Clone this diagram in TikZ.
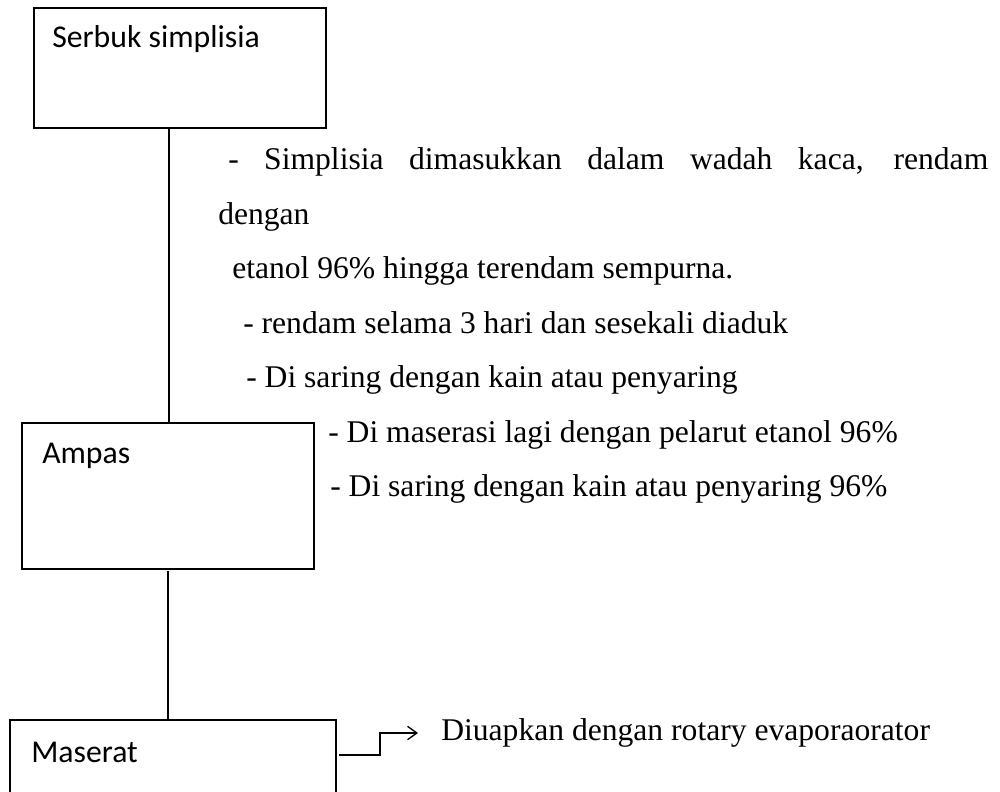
\documentclass[tikz,border=0pt]{standalone}
\usepackage{fontspec}
\setmainfont{Liberation Serif}
\newfontfamily\boxfont{Carlito}
\usetikzlibrary{arrows.meta}
\begin{document}
\begin{tikzpicture}[x=0.75pt,y=-0.75pt,
  stage/.style={draw,line width=1pt,rectangle,inner sep=0pt},
  stagelabel/.style={anchor=base west,inner sep=0pt,font=\boxfont\fontsize{23.8pt}{28pt}\selectfont},
  note/.style={anchor=base west,inner sep=0pt,font=\fontsize{23.7pt}{28pt}\selectfont},
  link/.style={line width=1pt}]
\useasboundingbox (0,0) rectangle (1000,792);
\clip (0,0) rectangle (1000,792);

% process boxes
\node[stage,minimum width=219pt,minimum height=90pt] (serbuk) at (180,68) {};
\node[stage,minimum width=219pt,minimum height=109.5pt] (ampas) at (168,496) {};
\node[stage,minimum width=244.5pt,minimum height=90pt] (maserat) at (173,780) {};

\node[stagelabel] (lserbuk) at (52,48) {Serbuk simplisia};
\node[stagelabel] (lampas) at (42,463) {Ampas};
\node[stagelabel] (lmaserat) at (31,762) {Maserat};

% vertical links
\coordinate (s1) at (169,128);
\coordinate (a1) at (169,423);
\draw[link] (s1) -- (a1);
\coordinate (a2) at (168,571);
\coordinate (m1) at (168,720);
\draw[link] (a2) -- (m1);

% step notes
\node[note] (n1) at (228,169.5) {\makebox[570pt][s]{- Simplisia dimasukkan dalam wadah kaca, rendam}};
\node[note] (n2) at (218,224) {dengan};
\node[note] (n3) at (232,278.5) {etanol 96\% hingga terendam sempurna.};
\node[note] (n4) at (243,333) {- rendam selama 3 hari dan sesekali diaduk};
\node[note] (n5) at (246,387.5) {- Di saring dengan kain atau penyaring};
\node[note] (n6) at (328,442) {- Di maserasi lagi dengan pelarut etanol 96\%};
\node[note] (n7) at (330,496.5) {- Di saring dengan kain atau penyaring 96\%};

% evaporation step
\node[note] (evap) at (441,740) {Diuapkan dengan rotary evaporaorator};
\coordinate (e0) at (339,755);
\coordinate (e1) at (380,755);
\coordinate (e2) at (380,733);
\coordinate (e3) at (418,733);
\draw[link,-{Straight Barb[length=7pt,width=10pt]}] (e0) -- (e1) -- (e2) -- (e3);
\end{tikzpicture}
\end{document}
